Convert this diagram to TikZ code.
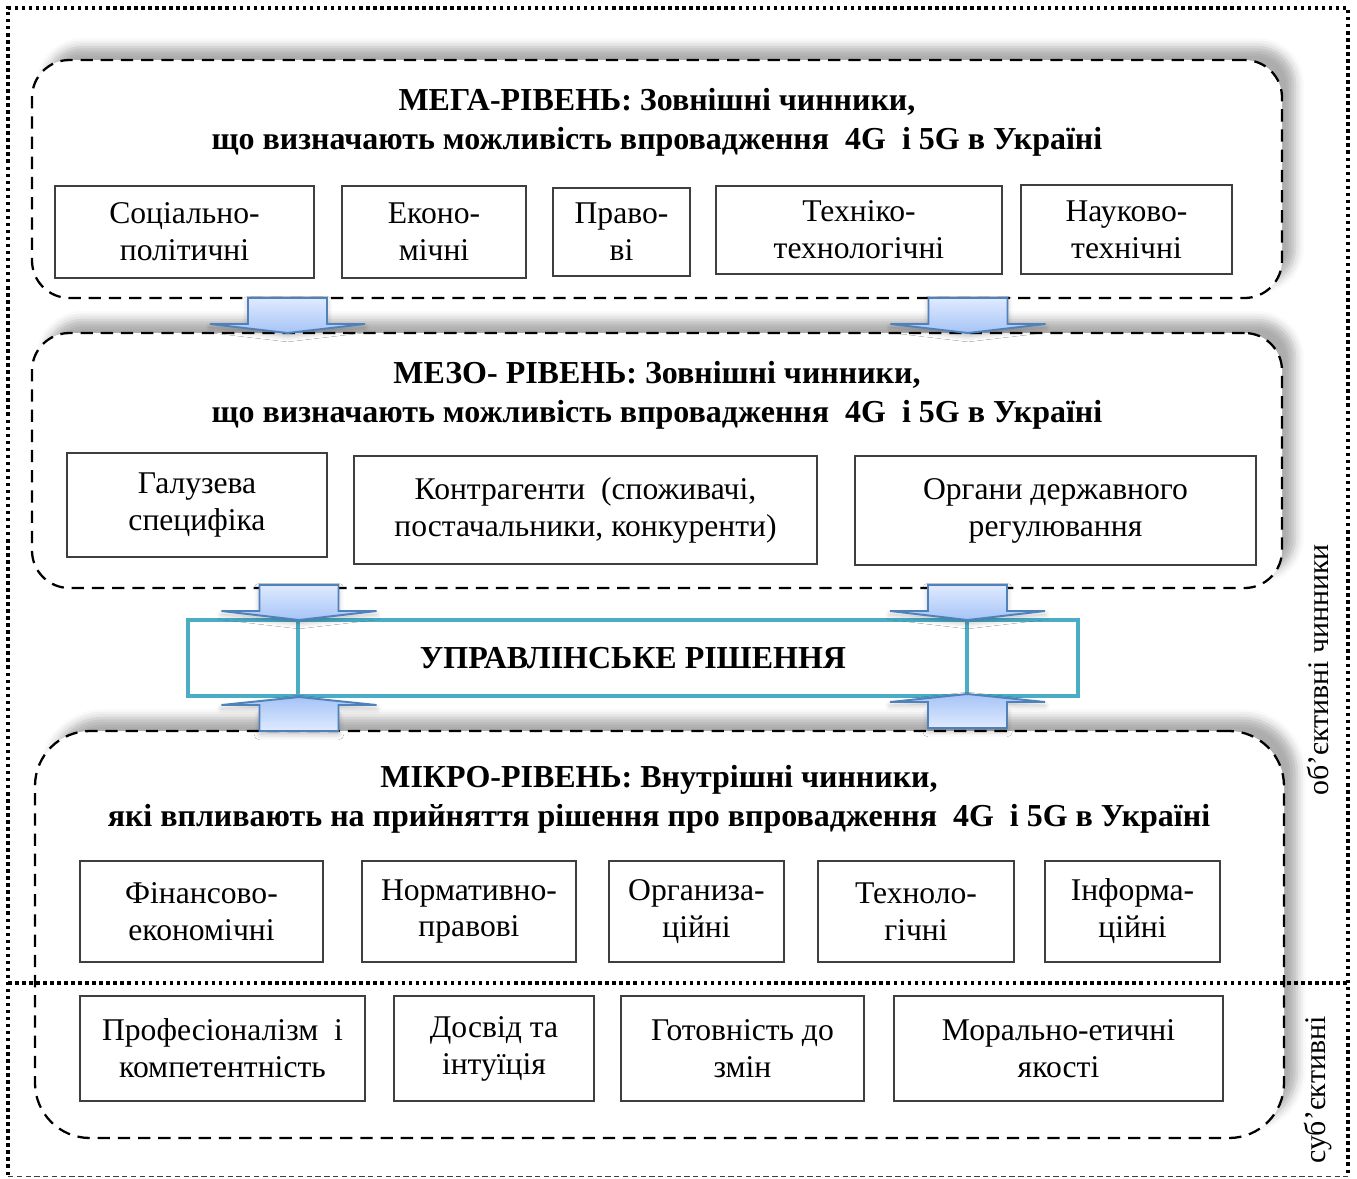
\documentclass[tikz,border=0pt]{standalone}
\usepackage{fontspec}
\setmainfont{Liberation Serif}
\usetikzlibrary{positioning,fit,shadows.blur}

\definecolor{boxgray}{HTML}{3F3F3F}
\definecolor{decteal}{HTML}{4BACC6}
\definecolor{arrline}{HTML}{4F81BD}
\definecolor{arrlight}{HTML}{DFEAFF}
\definecolor{arrdark}{HTML}{A6C4F6}

\begin{document}
\begin{tikzpicture}[
      x=0.02cm, y=-0.02cm,
      level/.style={draw, line width=1.3pt, dash pattern=on 7pt off 4.5pt,
                    rounded corners=0.75cm, fill=white, inner sep=0pt,
                    blur shadow={shadow xshift=0.26cm, shadow yshift=0.26cm,
                                 shadow blur radius=0.18cm, shadow opacity=32}},
      factor/.style={draw=boxgray, line width=0.8pt, fill=white, align=center,
                     inner sep=2pt, font=\fontsize{18}{21}\selectfont},
      title/.style={align=center, font=\bfseries\fontsize{18.2}{22}\selectfont},
      decision/.style={draw=decteal, line width=2.3pt, fill=white,
                       minimum width=17.8cm, minimum height=1.52cm,
                       font=\bfseries\fontsize{18.2}{22}\selectfont},
      side/.style={rotate=90, font=\fontsize{17}{20}\selectfont},
      frame/.style={line width=2pt, dash pattern=on 2pt off 2pt},
      arrowfill/.style={draw=arrline, line width=1.1pt, line join=miter,
                        blur shadow={shadow xshift=0pt, shadow yshift=-2pt,
                                     shadow blur radius=3pt, shadow opacity=25}},
      downarr/.pic={
        \path[arrowfill, top color=arrlight, bottom color=arrdark]
          (-39.5,0) -- (39.5,0) -- (39.5,26) -- (77.5,26) -- (0,35)
          -- (-77.5,26) -- (-39.5,26) -- cycle;
      },
      uparr/.pic={
        \path[arrowfill, top color=arrdark, bottom color=arrlight]
          (-39.5,0) -- (39.5,0) -- (39.5,-26) -- (77.5,-26) -- (0,-34)
          -- (-77.5,-26) -- (-39.5,-26) -- cycle;
      }
    ]
    \useasboundingbox (0,0) rectangle (1357,1178);

    % Levels
    \node[level, fit={(32,60)(1282,298)}] (mega) {};
    \node[level, fit={(32,333)(1282,588)}] (meso) {};
    \node[level, rounded corners=1.1cm, fit={(35,731)(1284,1138)}] (micro) {};

    % Mega level
    \node[title] at (657,122) (megatitle)
      {МЕГА-РІВЕНЬ: Зовнішні чинники,\\
       що визначають можливість впровадження~~4G~~і 5G в Україні};
    \node[factor, minimum width=5.18cm, minimum height=1.84cm] at (184.5,232) (socpol) {Соціально-\\політичні};
    \node[factor, minimum width=3.68cm, minimum height=1.84cm] at (434,232) (econ) {Еконо-\\мічні};
    \node[factor, minimum width=2.74cm, minimum height=1.76cm] at (621.5,232) (law) {Право-\\ві};
    \node[factor, minimum width=5.72cm, minimum height=1.76cm] at (859,230) (techno) {Техніко-\\технологічні};
    \node[factor, minimum width=4.22cm, minimum height=1.78cm] at (1126.5,229.5) (science) {Науково-\\технічні};

    % Meso level
    \node[title] at (657,395) (mesotitle)
      {МЕЗО- РІВЕНЬ: Зовнішні чинники,\\
       що визначають можливість впровадження~~4G~~і 5G в Україні};
    \node[factor, minimum width=5.2cm, minimum height=2.08cm] at (197,505) (branch) {Галузева\\специфіка};
    \node[factor, minimum width=9.26cm, minimum height=2.16cm] at (585.5,510) (agents)
      {Контрагенти~~(споживачі,\\постачальники, конкуренти)};
    \node[factor, minimum width=8.02cm, minimum height=2.18cm] at (1055.5,510.5) (govern)
      {Органи державного\\регулювання};

    % Management decision
    \node[decision] at (633,658) (dec) {УПРАВЛІНСЬКЕ РІШЕННЯ};
    \draw[decteal, line width=2.3pt] ([xshift=2.24cm]dec.north west) -- ([xshift=2.24cm]dec.south west);
    \draw[decteal, line width=2.3pt] ([xshift=-2.26cm]dec.north east) -- ([xshift=-2.26cm]dec.south east);

    % Micro level
    \node[title] at (659,799) (microtitle)
      {МІКРО-РІВЕНЬ: Внутрішні чинники,\\
       які впливають на прийняття рішення про впровадження~~4G~~і 5G в Україні};
    \node[factor, minimum width=4.86cm, minimum height=2.02cm] at (201.5,911.5) (finance) {Фінансово-\\економічні};
    \node[factor, minimum width=4.28cm, minimum height=2.02cm] at (469,911.5) (norms) {Нормативно-\\правові};
    \node[factor, minimum width=3.5cm, minimum height=2.02cm] at (696.5,911.5) (organ) {Организа-\\ційні};
    \node[factor, minimum width=3.92cm, minimum height=2.02cm] at (916,911.5) (techlog) {Техноло-\\гічні};
    \node[factor, minimum width=3.5cm, minimum height=2.02cm] at (1132.5,911.5) (inform) {Інформа-\\ційні};
    \node[factor, minimum width=5.7cm, minimum height=2.1cm] at (222.5,1048.5) (prof)
      {Професіоналізм~~і\\компетентність};
    \node[factor, minimum width=4cm, minimum height=2.1cm] at (494,1048.5) (exper) {Досвід та\\інтуїція};
    \node[factor, minimum width=4.86cm, minimum height=2.1cm] at (742.5,1048.5) (ready) {Готовність до\\змін};
    \node[factor, minimum width=6.58cm, minimum height=2.1cm] at (1058.5,1048.5) (moral)
      {Морально-етичні\\якості};

    % Block arrows between levels
    \pic at (287.5,298) {downarr};
    \pic at (968,298) {downarr};
    \pic at (299,585) {downarr};
    \pic at (967.5,585) {downarr};
    \pic at (299,731) {uparr};
    \pic at (967.5,728) {uparr};

    % Outer frame and divider
    \draw[frame] (8,1175) -- (8,8) -- (1348,8) -- (1348,1175);
    \draw[boxgray, thin, dash pattern=on 3pt off 2pt] (8,1176) -- (1348,1176);
    \draw[frame] (8,983) -- (1348,983);

    % Side labels
    \node[side] at (1318,670) (objective) {об'єктивні чинники};
    \node[side] at (1318,1090) (subjective) {суб'єктивні};
  \end{tikzpicture}
\end{document}
